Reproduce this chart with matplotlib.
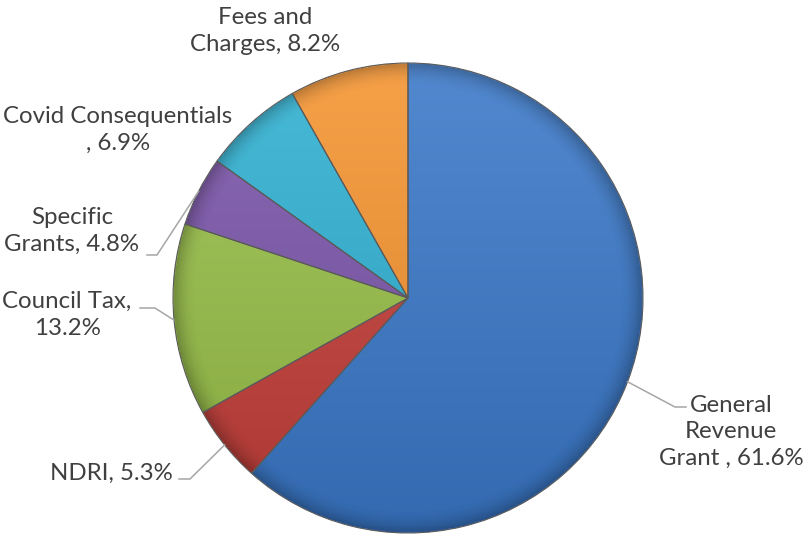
#!/usr/bin/env python3
"""Income sources pie chart, Excel-style shaded wedges."""

import matplotlib
matplotlib.use("Agg")
import matplotlib.pyplot as plt
import numpy as np
from matplotlib.colors import to_rgb

# data
categories = ["General Revenue Grant", "NDRI", "Council Tax", "Specific Grants",
              "Covid Consequentials", "Fees and Charges"]
shares = [61.6, 5.3, 13.2, 4.8, 6.9, 8.2]
label_texts = ["General\nRevenue\nGrant , 61.6%", "NDRI, 5.3%", "Council Tax,\n13.2%",
               "Specific\nGrants, 4.8%", "Covid Consequentials\n, 6.9%", "Fees and\nCharges, 8.2%"]

# styling / layout (pixel coords, y from top)
COLORS = ["#3a78c8", "#c43f3a", "#98bf48", "#7b55aa", "#2fb1d2", "#f59430"]
W, H = 807, 535
CENTER = (408, 298)
RADIUS = 235
TEXT_POS = [(731, 432), (111, 473), (67, 315), (72, 231), (118, 130), (265, 31)]
LEADERS = [
    [(675, 407), (686, 407)],
    [(190, 479), (179, 479)],
    [(155, 308), (140, 308)],
    [(157, 255), (147, 255)],
    None,
    None,
]
TEXT_COLOR = "#404040"
LINE_COLOR = "#a6a6a6"


def px(x, y):
    return x, H - y


def shade(color, f):
    c = np.array(to_rgb(color))
    if f >= 0:
        return c + (1 - c) * f
    return c * (1 + f)


def main():
    plt.rcParams["font.family"] = ["Lato", "DejaVu Sans"]
    fig = plt.figure(figsize=(W / 100, H / 100), dpi=100)
    ax = fig.add_axes([0, 0, 1, 1])
    ax.set_axis_off()

    cx, cy = px(*CENTER)
    wedges, _ = ax.pie(shares, startangle=90, counterclock=False, center=(cx, cy),
                       radius=RADIUS, colors=COLORS,
                       wedgeprops=dict(linewidth=0.8, edgecolor="#5a5a5a"))

    extent = (cx - RADIUS, cx + RADIUS, cy - RADIUS, cy + RADIUS)
    t = np.linspace(0, 1, 256)[:, None, None]
    for w, col in zip(wedges, COLORS):
        top = shade(col, 0.12)
        bot = shade(col, -0.12)
        grad = top * (1 - t) + bot * t
        im = ax.imshow(grad, extent=extent, origin="upper", aspect="auto",
                       interpolation="bilinear", zorder=1.5)
        im.set_clip_path(w)
        w.set_zorder(2)
        w.set_facecolor("none")

    # soft darkening near the rim
    n = 400
    yy, xx = np.mgrid[-1:1:n * 1j, -1:1:n * 1j]
    rr = np.sqrt(xx ** 2 + yy ** 2)
    alpha = np.clip((rr - 0.9) / 0.1, 0, 1) ** 2 * 0.25
    alpha[rr > 1] = 0
    rim = np.zeros((n, n, 4))
    rim[..., 3] = alpha
    ax.imshow(rim, extent=extent, origin="upper", aspect="auto", zorder=1.8)

    for i, w in enumerate(wedges):
        ax.text(*px(*TEXT_POS[i]), label_texts[i], ha="center", va="center",
                fontsize=17.3, color=TEXT_COLOR, linespacing=1.33, zorder=5)
        if LEADERS[i] is None:
            continue
        mid = np.deg2rad((w.theta1 + w.theta2) / 2)
        edge = (cx + RADIUS * np.cos(mid), cy + RADIUS * np.sin(mid))
        pts = [edge] + [px(*p) for p in LEADERS[i]]
        xs, ys = zip(*pts)
        ax.plot(xs, ys, color=LINE_COLOR, lw=1.1, zorder=4)

    ax.set_xlim(0, W)
    ax.set_ylim(0, H)
    ax.set_aspect("equal")
    fig.savefig("out.png", dpi=100, facecolor="white")
    plt.close(fig)


if __name__ == "__main__":
    main()
